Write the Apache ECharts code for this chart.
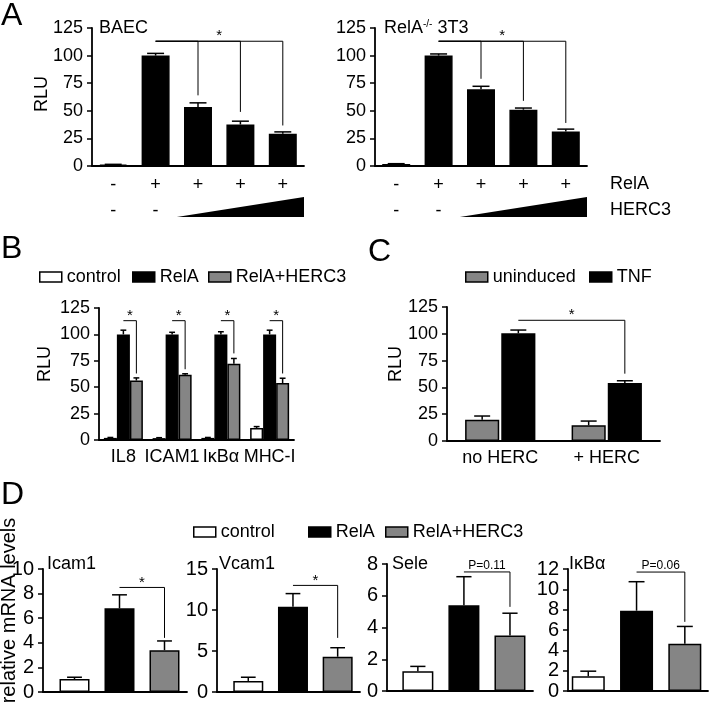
<!DOCTYPE html>
<html><head><meta charset="utf-8">
<script src="https://cdn.jsdelivr.net/npm/echarts@6/dist/echarts.min.js"></script>
<style>html,body{margin:0;padding:0;background:#fff}#c{width:709px;height:707px}</style>
</head><body><div id="c"></div>
<script>
const FONT = '"Liberation Sans", Arial, Helvetica, sans-serif';
const NARROW = '"Liberation Sans Narrow", "Liberation Sans", Arial, sans-serif';
const GRAY = '#858585';

// ---- Panel A ----
const aRelARow = ['-', '+', '+', '+', '+'];
const aHERC3Row = ['-', '-', '', '', ''];
const aBaecVals = [1.2, 100, 53.4, 37.6, 29.1];
const aBaecErr = [0.3, 2.0, 3.8, 3.0, 1.8];
const a3t3Vals = [1.8, 100, 69.5, 51, 31.2];
const a3t3Err = [0.3, 1.5, 2.7, 1.5, 2.2];
const aBaecBrackets = [[1, 4, 113, 36.7], [1, 3, 113, 49], [1, 2, 113, 64]];
const a3t3Brackets = [[1, 4, 113, 39], [1, 3, 113, 59], [1, 2, 113, 79]];
const aBracketLabels = ['*', '', ''];
const aRowNames = ['RelA', 'HERC3'];

// ---- Panel B ----
const bCats = ['IL8', 'ICAM1', 'IκBα', 'MHC-I'];
const bControl = [2, 1.8, 2, 11.4];
const bControlErr = [0.4, 0.4, 0.4, 1.3];
const bRelA = [100, 100, 100, 100];
const bRelAErr = [4, 2, 2.5, 4];
const bHerc = [56.3, 61.7, 72.2, 54];
const bHercErr = [2.5, 1, 5, 4.5];
const bBracketTop = [113, 113, 113, 113];
const bBracketEnd = [63, 67, 82, 63];

// ---- Panel C ----
const cCats = ['no HERC', '+ HERC'];
const cUninduced = [19.9, 14.6];
const cUninducedErr = [3.4, 4];
const cTNF = [100.5, 54];
const cTNFErr = [3, 2.2];
const cBracket = [[0, 1, 112.6, 62.8]];

// ---- Panel D ----
const dGenes = ['Icam1', 'Vcam1', 'Sele', 'IκBα'];
const dControl = [1.05, 1.35, 1.25, 1.45];
const dControlErr = [0.15, 0.45, 0.3, 0.5];
const dRelA = [6.8, 10.4, 5.4, 7.9];
const dRelAErr = [1.1, 1.6, 1.8, 2.85];
const dHerc = [3.4, 4.3, 3.5, 4.65];
const dHercErr = [0.75, 1.1, 1.4, 1.7];
const dMax = [10, 15, 8, 12];
const dInterval = [2, 5, 2, 2];
const dSig = ['*', '*', 'P=0.11', 'P=0.06'];
const dBracketTop = [8.5, 13.0, 7.5, 11.7];
const dBracketEnd = [4.4, 6.6, 5.3, 6.8];

// ---- layout (styles / positions) ----
const grids = [
  {left: 92, top: 28, width: 212, height: 138},
  {left: 375, top: 28, width: 212, height: 138},
  {left: 99, top: 308, width: 195, height: 132},
  {left: 447, top: 307, width: 213, height: 134},
  {left: 43, top: 569, width: 144, height: 123},
  {left: 217, top: 569, width: 143, height: 123},
  {left: 387, top: 564, width: 146, height: 127},
  {left: 568, top: 569, width: 140, height: 122}
].map(g => Object.assign(g, {containLabel: false, outerBoundsMode: 'none'}));
const dXRange = [[-0.7, 2.5], [-0.7, 2.5], [-0.67, 2.5], [-0.42, 2.48]];
const dBarW = [30, 30, 31, 33];

const black = {color: '#000', borderColor: '#000', borderWidth: 1.5};
const white = {color: '#fff', borderColor: '#000', borderWidth: 1.5};
const gray = {color: GRAY, borderColor: '#000', borderWidth: 1.5};

function yAx(gi, max, interval, fs, name, nameGap, shift) {
  return {
    type: 'value', gridIndex: gi, min: 0, max: max, interval: interval,
    axisLine: {show: true, onZero: false, lineStyle: {color: '#000', width: 1.8}},
    axisTick: {show: true, length: 5, lineStyle: {color: '#000', width: 1.5}},
    axisLabel: {color: '#000', fontSize: fs, fontFamily: NARROW, margin: 9},
    splitLine: {show: false},
    name: name || '', nameLocation: 'middle', nameGap: nameGap || 0, nameRotate: 90,
    nameMoveOverlap: false,
    nameTextStyle: {color: '#000', fontSize: name && name.length > 5 ? 20 : 18, fontFamily: FONT,
      padding: [0, 0, 0, 2 * (shift || 0)]}
  };
}
function xCat(gi, data, extra) {
  return Object.assign({
    type: 'category', gridIndex: gi, data: data,
    axisLine: {show: true, onZero: false, lineStyle: {color: '#000', width: 1.8}},
    axisTick: {show: false},
    axisLabel: {color: '#000', fontSize: 18, fontFamily: NARROW, margin: 8, interval: 0},
    splitLine: {show: false}
  }, extra || {});
}
function xVal(gi, range) {
  return {
    type: 'value', gridIndex: gi, min: range[0], max: range[1],
    axisLine: {show: true, onZero: false, lineStyle: {color: '#000', width: 1.8}},
    axisTick: {show: false}, axisLabel: {show: false}, splitLine: {show: false}
  };
}
function errSeries(ai, xs, vals, errs, offFrac, capFrac) {
  return {
    type: 'custom', xAxisIndex: ai, yAxisIndex: ai, z: 4, clip: false, silent: true,
    data: vals.map((v, i) => [xs[i], v, errs[i]]), encode: {x: 0, y: 1},
    renderItem(params, api) {
      const band = api.size([1, 0])[0];
      const x = api.value(0), v = api.value(1), e = api.value(2);
      const p0 = api.coord([x, v]), p1 = api.coord([x, v + e]);
      const cx = p0[0] + offFrac * band, hw = capFrac * band / 2;
      return {type: 'group', children: [
        {type: 'line', shape: {x1: cx, y1: p0[1], x2: cx, y2: p1[1]}, style: {stroke: '#000', lineWidth: 1.5}},
        {type: 'line', shape: {x1: cx - hw, y1: p1[1], x2: cx + hw, y2: p1[1]}, style: {stroke: '#000', lineWidth: 1.5}}
      ]};
    }
  };
}
function bracketSeries(ai, items, labels, off1, off2, fs, dy) {
  return {
    type: 'custom', xAxisIndex: ai, yAxisIndex: ai, z: 5, clip: false, silent: true,
    data: items, encode: {x: [0, 1], y: [2, 3]},
    renderItem(params, api) {
      const band = api.size([1, 0])[0];
      const pA = api.coord([api.value(0), api.value(2)]);
      const pB = api.coord([api.value(1), api.value(2)]);
      const pE = api.coord([api.value(1), api.value(3)]);
      const xA = pA[0] + off1 * band, xB = pB[0] + off2 * band;
      const children = [{type: 'polyline', shape: {points: [[xA, pA[1]], [xB, pA[1]], [xB, pE[1]]]},
        style: {stroke: '#000', lineWidth: 1, fill: null}}];
      const lab = labels[params.dataIndex];
      if (lab) children.push({type: 'text', x: (xA + xB) / 2, y: pA[1] - dy,
        style: {text: lab, fontSize: fs, fontFamily: FONT, fill: '#000', align: 'center', verticalAlign: 'middle'}});
      return {type: 'group', children: children};
    }
  };
}
function rampSeries(ai, fromCat, toCat) {
  return {
    type: 'custom', xAxisIndex: ai, yAxisIndex: ai, clip: false, silent: true,
    data: [[fromCat, toCat]], encode: {x: [0, 1]},
    renderItem(params, api) {
      const band = api.size([1, 0])[0];
      const p1 = api.coord([api.value(0), 0]), p2 = api.coord([api.value(1), 0]);
      const x1 = p1[0] + band / 2, x2 = p2[0] + band / 2, y0 = p1[1];
      return {type: 'polygon', shape: {points: [[x1, y0 + 51], [x2, y0 + 51], [x2, y0 + 31]]}, style: {fill: '#000'}};
    }
  };
}

const xAxis = [], yAxis = [], series = [];
// A
const aLabels = aRelARow.map((r, i) => r + '\n' + aHERC3Row[i]);
[[aBaecVals, aBaecErr, aBaecBrackets, 'BAEC'], [a3t3Vals, a3t3Err, a3t3Brackets, 'RelA-/- 3T3']].forEach((p, gi) => {
  xAxis.push(xCat(gi, aLabels, {axisLabel: {color: '#000', fontSize: 18, fontFamily: FONT, margin: 6, interval: 0, lineHeight: 26}}));
  yAxis.push(yAx(gi, 125, 25, 18, gi === 0 ? 'RLU' : '', 41, 3));
  series.push({type: 'bar', name: p[3], xAxisIndex: gi, yAxisIndex: gi, data: p[0], barWidth: '66%', itemStyle: black});
  series.push(errSeries(gi, [0, 1, 2, 3, 4], p[0], p[1], 0, 0.4));
  series.push(bracketSeries(gi, p[2], aBracketLabels, 0, 0, 15, 5));
  series.push(rampSeries(gi, 1, 4));
});
// B
xAxis.push(xCat(2, bCats));
yAxis.push(yAx(2, 125, 25, 18, 'RLU', 45, 10));
const bw = 0.8 / 3;
[['control', bControl, bControlErr, white, -bw], ['RelA', bRelA, bRelAErr, black, 0], ['RelA+HERC3', bHerc, bHercErr, gray, bw]].forEach(s => {
  series.push({type: 'bar', name: s[0], xAxisIndex: 2, yAxisIndex: 2, data: s[1], barGap: '0%', barCategoryGap: '20%', itemStyle: s[3]});
  series.push(errSeries(2, [0, 1, 2, 3], s[1], s[2], s[4], 0.12));
});
series.push(bracketSeries(2, bCats.map((c, i) => [i, i, bBracketTop[i], bBracketEnd[i]]), bCats.map(() => '*'), 0, bw, 15, 5));
// C
xAxis.push(xCat(3, cCats));
yAxis.push(yAx(3, 125, 25, 18, 'RLU', 42, 10));
const cw = 0.66 / 2.06, coff = cw / 2 + 0.03 * cw;
[['uninduced', cUninduced, cUninducedErr, gray, -coff], ['TNF', cTNF, cTNFErr, black, coff]].forEach(s => {
  series.push({type: 'bar', name: s[0], xAxisIndex: 3, yAxisIndex: 3, data: s[1], barGap: '6%', barCategoryGap: '34%', itemStyle: s[3]});
  series.push(errSeries(3, [0, 1], s[1], s[2], s[4], 0.15));
});
series.push(bracketSeries(3, cBracket, ['*'], coff, coff, 15, 5));
// D
dGenes.forEach((g, k) => {
  const ai = 4 + k;
  xAxis.push(xVal(ai, dXRange[k]));
  yAxis.push(yAx(ai, dMax[k], dInterval[k], 20, k === 0 ? 'relative mRNA levels' : '', 24, 20));
  [['control', dControl, white, 0], ['RelA', dRelA, black, 1], ['RelA+HERC3', dHerc, gray, 2]].forEach(s => {
    series.push({type: 'bar', name: s[0], xAxisIndex: ai, yAxisIndex: ai, stack: 'd' + k, barWidth: dBarW[k],
      data: [[s[3], s[1][k]]], itemStyle: s[2]});
  });
  series.push(errSeries(ai, [0, 1, 2], [dControl[k], dRelA[k], dHerc[k]], [dControlErr[k], dRelAErr[k], dHercErr[k]], 0, 0.33));
  const isStar = dSig[k] === '*';
  series.push(bracketSeries(ai, [[1, 2, dBracketTop[k], dBracketEnd[k]]], [dSig[k]], 0, 0, isStar ? 15 : 12, isStar ? 5 : 6));
});

function leg(name, left, top) {
  return {data: [name], left: left, top: top, itemWidth: 22, itemHeight: 10, icon: 'rect', padding: 0,
    selectedMode: false, textStyle: {fontSize: 18, fontFamily: FONT, color: '#000'},
    itemStyle: {borderColor: '#000', borderWidth: 1.5}};
}
const letter = {fontSize: 32, fontWeight: 'normal', fontFamily: FONT, color: '#000'};
const sub = {fontSize: 18, fontWeight: 'normal', fontFamily: FONT, color: '#000'};
const titles = [
  {text: 'A', left: 1, top: 0, padding: 0, textStyle: letter},
  {text: 'B', left: 1, top: 233, padding: 0, textStyle: letter},
  {text: 'C', left: 368, top: 236, padding: 0, textStyle: letter},
  {text: 'D', left: 1, top: 479, padding: 0, textStyle: letter},
  {text: 'BAEC', left: 99, top: 19, padding: 0, textStyle: sub},
  {text: 'RelA{s|-/-} 3T3', left: 384, top: 19, padding: 0,
    textStyle: Object.assign({}, sub, {rich: {s: {fontSize: 10, fontFamily: FONT, color: '#000', verticalAlign: 'top', padding: [0, 0, 8, 0]}}})}
];
const dTitleLeft = [47, 219, 392, 569];
dGenes.forEach((g, k) => titles.push({text: g, left: dTitleLeft[k], top: 555, padding: 0, textStyle: sub}));

const option = {
  animation: false,
  backgroundColor: '#fff',
  title: titles,
  legend: [leg('control', 39, 268), leg('RelA', 132, 268), leg('RelA+HERC3', 208, 268),
    leg('uninduced', 465, 268), leg('TNF', 589, 268),
    leg('control', 193, 523), leg('RelA', 308, 523), leg('RelA+HERC3', 385, 523)],
  grid: grids,
  xAxis: xAxis,
  yAxis: yAxis,
  series: series,
  graphic: aRowNames.map((t, i) => ({type: 'text', left: 610, top: 175 + i * 26,
    style: {text: t, fontSize: 18, fontFamily: FONT, fill: '#000'}}))
};
const chart = echarts.init(document.getElementById('c'), null, {renderer: 'canvas'});
chart.setOption(option);
</script></body></html>
